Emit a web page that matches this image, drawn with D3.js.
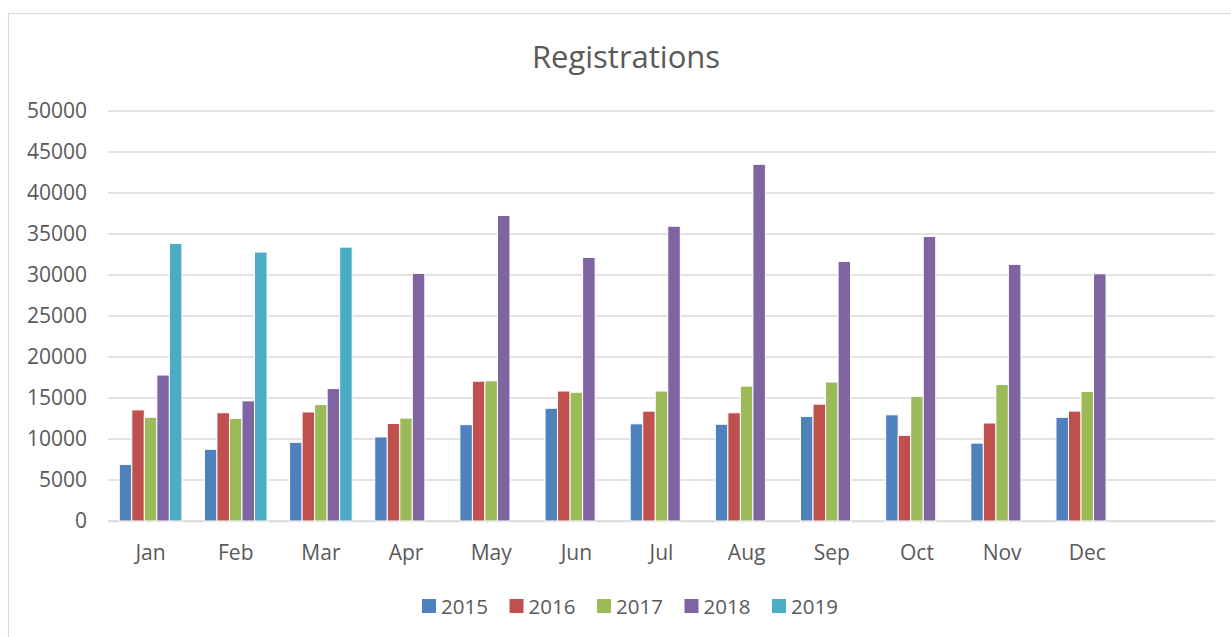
<!DOCTYPE html>
<html>
<head>
<meta charset="utf-8">
<script src="https://cdn.jsdelivr.net/npm/d3@7"></script>
<style>
  body { margin: 0; background: #fff; }
  svg { display: block; font-family: "Open Sans", sans-serif; }
</style>
</head>
<body>
<svg id="vis" width="1231" height="637"></svg>
<script>
// categories (last slot left empty, as in the source chart)
var months = ["Jan", "Feb", "Mar", "Apr", "May", "Jun", "Jul", "Aug", "Sep", "Oct", "Nov", "Dec", ""];
var years = ["2015", "2016", "2017", "2018", "2019"];

// values per year, Jan..Dec (null = no bar)
var y2015 = [6900, 8750, 9600, 10250, 11750, 13750, 11850, 11800, 12750, 12950, 9500, 12650];
var y2016 = [13550, 13200, 13300, 11900, 17050, 15850, 13400, 13200, 14250, 10450, 11950, 13400];
var y2017 = [12650, 12500, 14200, 12550, 17100, 15700, 15850, 16450, 16950, 15200, 16650, 15800];
var y2018 = [17800, 14650, 16150, 30200, 37250, 32150, 35950, 43500, 31650, 34700, 31300, 30150];
var y2019 = [33850, 32800, 33400, null, null, null, null, null, null, null, null, null];

var yTicks = [0, 5000, 10000, 15000, 20000, 25000, 30000, 35000, 40000, 45000, 50000];

// Office colour scheme
var colors = {
  "2015": "#4f81bd",
  "2016": "#c0504d",
  "2017": "#9bbb59",
  "2018": "#8064a2",
  "2019": "#4bacc6"
};

var series = {"2015": y2015, "2016": y2016, "2017": y2017, "2018": y2018, "2019": y2019};

var svg = d3.select("svg#vis");

var attr = {
  left: 108,
  right: 1215,
  top: 111,
  bottom: 521
};

// chart frame
svg.append("rect")
  .attr("x", 8.5)
  .attr("y", 13.5)
  .attr("width", 1240)
  .attr("height", 640)
  .attr("fill", "none")
  .attr("stroke", "#d9d9d9")
  .attr("stroke-width", 1.2);

var x = d3.scaleBand()
  .domain(months.map((m, i) => i))
  .range([attr.left, attr.right]);

var x1 = d3.scaleBand()
  .domain(years)
  .range([0, x.bandwidth()])
  .paddingInner(0)
  .paddingOuter(0.9);

var y = d3.scaleLinear()
  .domain([0, 50000])
  .range([attr.bottom, attr.top]);

// gridlines
svg.append("g")
  .selectAll("line")
  .data(yTicks)
  .enter()
  .append("line")
  .attr("x1", attr.left)
  .attr("x2", attr.right)
  .attr("y1", d => y(d))
  .attr("y2", d => y(d))
  .attr("stroke", "#d9d9d9")
  .attr("stroke-width", 1.5);

// y axis labels
var yAxis = svg.append("g")
  .attr("transform", "translate(" + attr.left + ",0)")
  .call(d3.axisLeft(y).tickValues(yTicks).tickSize(0).tickPadding(21).tickFormat(d3.format("d")));
yAxis.select(".domain").remove();
yAxis.selectAll("text")
  .attr("font-family", "Open Sans, sans-serif")
  .attr("font-size", "21px")
  .attr("fill", "#595959");

// x axis labels
var xAxis = svg.append("g")
  .attr("transform", "translate(0," + attr.bottom + ")")
  .call(d3.axisBottom(x).tickSize(0).tickPadding(24).tickFormat(i => months[i]));
xAxis.select(".domain").attr("stroke", "#d9d9d9").attr("stroke-width", 1.5);
xAxis.selectAll("text")
  .attr("font-family", "Open Sans, sans-serif")
  .attr("font-size", "21px")
  .attr("fill", "#595959");

// bars
var bars = [];
years.forEach(function(yr) {
  series[yr].forEach(function(v, i) {
    if (v != null) bars.push({year: yr, month: i, value: v});
  });
});

svg.append("g")
  .selectAll("rect")
  .data(bars)
  .enter()
  .append("rect")
  .attr("x", d => x(d.month) + x1(d.year))
  .attr("y", d => y(d.value))
  .attr("width", x1.bandwidth())
  .attr("height", d => y(0) - y(d.value))
  .attr("fill", d => colors[d.year])
  .attr("stroke", "#fff")
  .attr("stroke-width", 1);

// title
svg.append("text")
  .attr("x", 626)
  .attr("y", 68)
  .attr("text-anchor", "middle")
  .attr("font-size", "31px")
  .attr("fill", "#595959")
  .text("Registrations");

// legend
var legend = svg.append("g")
  .selectAll("g")
  .data(years)
  .enter()
  .append("g")
  .attr("transform", (d, i) => "translate(" + (422 + i * 87.5) + ",599)");

legend.append("rect")
  .attr("width", 14)
  .attr("height", 14)
  .attr("fill", d => colors[d]);

legend.append("text")
  .attr("x", 19)
  .attr("y", 14.5)
  .attr("font-size", "20.5px")
  .attr("fill", "#595959")
  .text(d => d);
</script>
</body>
</html>
